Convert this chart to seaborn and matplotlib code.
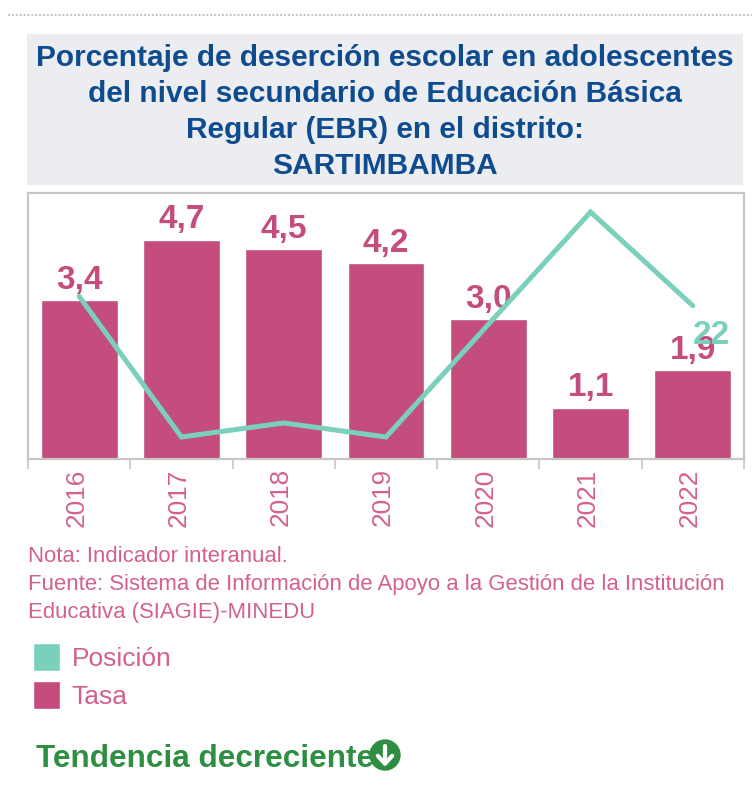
import matplotlib
matplotlib.use("Agg")
import matplotlib.pyplot as plt
from matplotlib.lines import Line2D
from matplotlib.patches import Circle, Patch, Rectangle
from matplotlib.transforms import ScaledTranslation
import pandas as pd
import seaborn as sns

years = ["2016", "2017", "2018", "2019", "2020", "2021", "2022"]
tasa = [3.4, 4.7, 4.5, 4.2, 3.0, 1.1, 1.9]
posicion = [23, 8, 9.5, 8, 20, 32, 22]
position_labels = {6: "22"}

title = ("Porcentaje de deserción escolar en adolescentes\n"
         "del nivel secundario de Educación Básica\n"
         "Regular (EBR) en el distrito:\nSARTIMBAMBA")
nota = ("Nota: Indicador interanual.\n"
        "Fuente: Sistema de Información de Apoyo a la Gestión de la Institución\n"
        "Educativa (SIAGIE)-MINEDU")
tendencia = "Tendencia decreciente"

PINK = "#C44D7E"
TEAL = "#7BD0BC"
TEXT_PINK = "#D4608F"
BLUE = "#0F4C8F"
GREEN = "#2E8F42"
GRID = "#C6C6C6"

sns.set_theme(style="white")
plt.rcParams["font.family"] = ["Liberation Sans", "DejaVu Sans"]

W, H = 752, 790
fig = plt.figure(figsize=(W / 100, H / 100), dpi=100, facecolor="white")


def fx(x):
    return x / W


def fy(y):
    return 1 - y / H


df = pd.DataFrame({"anio": years, "tasa": tasa, "posicion": posicion})

ax = fig.add_axes([fx(28), fy(459), 716 / W, 266 / H])
sns.barplot(data=df, x="anio", y="tasa", color=PINK, saturation=1, width=0.75, ax=ax)
ax.set_xlim(-0.5, 6.5)
ax.set_ylim(0, 266 / 46.7)
ax.set_xlabel("")
ax.set_ylabel("")
ax.set_yticks([])
ax.set_xticks(range(len(years)))
ax.set_xticklabels(years, rotation=90, fontsize=18.8, color=TEXT_PINK)
ax.tick_params(axis="x", which="major", length=0, pad=6.7)
ax.set_xticks([i - 0.5 for i in range(len(years) + 1)], minor=True)
ax.tick_params(axis="x", which="minor", length=7, width=1.2, color=GRID, bottom=True)
for s in ax.spines.values():
    s.set_color(GRID)
    s.set_linewidth(1.6)
shift = ScaledTranslation(-3 / 100, 0, fig.dpi_scale_trans)
for lab in ax.get_xticklabels():
    lab.set_transform(lab.get_transform() + shift)
ax.bar_label(ax.containers[0], labels=[f"{v:.1f}".replace(".", ",") for v in tasa],
             padding=3, fontsize=24, fontweight="bold", color=PINK)

ax2 = ax.twinx()
sns.lineplot(data=df, x="anio", y="posicion", color=TEAL, linewidth=3.6, sort=False,
             ax=ax2, solid_capstyle="round", solid_joinstyle="miter")
ax2.set_xlim(-0.5, 6.5)
ax2.set_ylim(8 - 22 / 9.375, 8 + 244 / 9.375)
ax2.set_yticks([])
ax2.set_ylabel("")
ax2.set_xlabel("")
ax2.grid(False)
for s in ax2.spines.values():
    s.set_visible(False)
for i, lab in position_labels.items():
    ax2.annotate(lab, (i, posicion[i]), xytext=(0, -10.5), textcoords="offset points",
                 ha="left", va="top", fontsize=24, fontweight="bold", color=TEAL)

# title band
fig.add_artist(Rectangle((fx(27), fy(185)), 716 / W, 151 / H, transform=fig.transFigure,
                         facecolor="#ECEDF1", edgecolor="none", zorder=0))
fig.text(fx(385), fy(112), title, ha="center", va="center", fontsize=21.5, fontweight="bold",
         color=BLUE, linespacing=1.375)

# dotted rule
fig.add_artist(Line2D([fx(8), fx(752)], [fy(15), fy(15)], transform=fig.transFigure,
                      color="#C4C4C4", linewidth=1.4, linestyle=(0, (1, 1))))

fig.text(fx(28), fy(546), nota, ha="left", va="top", fontsize=15.9, color=TEXT_PINK,
         linespacing=1.45)

leg = fig.legend(handles=[Patch(facecolor=TEAL, label="Posición"), Patch(facecolor=PINK, label="Tasa")],
                 loc="upper left", bbox_to_anchor=(fx(33), fy(643)), frameon=False,
                 fontsize=19, borderpad=0, borderaxespad=0, handlelength=1.02, handleheight=1.26,
                 labelspacing=0.37, handletextpad=0.45, labelcolor=TEXT_PINK)

fig.text(fx(36), fy(759), tendencia, ha="left", va="center", fontsize=22.7, fontweight="bold", color=GREEN)
cx, cy, r = 385, 755, 16
icon = fig.add_axes([fx(cx - r), fy(cy + r), 2 * r / W, 2 * r / H])
icon.set_xlim(-1, 1)
icon.set_ylim(-1, 1)
icon.axis("off")
icon.add_patch(Circle((0, 0), 0.98, facecolor=GREEN, edgecolor="none"))
icon.plot([0, 0], [0.55, -0.5], color="white", lw=3, solid_capstyle="round")
icon.plot([-0.45, 0, 0.45], [-0.05, -0.55, -0.05], color="white", lw=3,
          solid_capstyle="round", solid_joinstyle="round")

fig.savefig("out.png", dpi=100, facecolor="white")
